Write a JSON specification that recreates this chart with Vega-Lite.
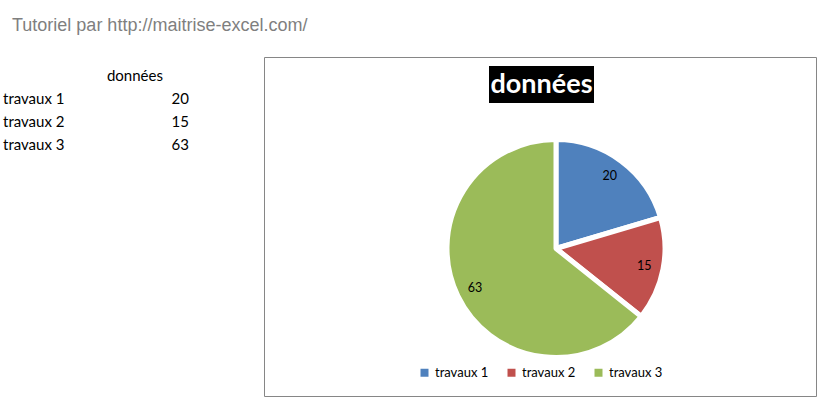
{
  "$schema": "https://vega.github.io/schema/vega-lite/v6.json",
  "background": "white",
  "padding": {"left": 0, "top": 16, "right": 0, "bottom": 0},
  "title": {"text": "Tutoriel par http://maitrise-excel.com/", "anchor": "start", "dx": 12, "font": "Liberation Sans", "fontSize": 18, "fontWeight": "normal", "color": "#7f7f7f", "offset": 22, "frame": "bounds"},
  "config": {"view": {"stroke": null}},
  "spacing": 73,
  "datasets": {
    "tbl": [
      {"cat": "travaux 1", "donnees": 20},
      {"cat": "travaux 2", "donnees": 15},
      {"cat": "travaux 3", "donnees": 63}
    ]
  },
  "hconcat": [
    {
      "width": 190,
      "height": 107,
      "data": {"name": "tbl"},
      "layer": [
        {
          "mark": {"type": "text", "align": "left", "dx": 3, "font": "Lato", "fontSize": 15, "color": "black"},
          "encoding": {
            "x": {"datum": "cat", "type": "nominal", "bandPosition": 0, "scale": {"type": "band", "domain": ["cat", "val"], "paddingInner": 0, "paddingOuter": 0}, "axis": null},
            "y": {"field": "cat", "type": "nominal", "scale": {"type": "band", "domain": ["hdr", "travaux 1", "travaux 2", "travaux 3"], "paddingInner": 0, "paddingOuter": 0.35}, "axis": null},
            "text": {"field": "cat"}
          }
        },
        {
          "mark": {"type": "text", "align": "right", "dx": -1, "font": "Lato", "fontSize": 15, "color": "black"},
          "encoding": {
            "x": {"datum": "val", "type": "nominal", "bandPosition": 1},
            "y": {"field": "cat", "type": "nominal"},
            "text": {"field": "donnees"}
          }
        },
        {
          "data": {"values": [{"h": "données", "r": "hdr"}]},
          "mark": {"type": "text", "align": "center", "font": "Lato", "fontSize": 15, "color": "black"},
          "encoding": {
            "x": {"datum": "val", "type": "nominal", "bandPosition": 0.42},
            "y": {"field": "r", "type": "nominal"},
            "text": {"field": "h"}
          }
        }
      ]
    },
    {
      "width": 552,
      "height": 339,
      "view": {"stroke": "#868686", "strokeWidth": 1, "fill": "white"},
      "layer": [
        {
          "data": {"values": [{"t": "données"}]},
          "mark": {"type": "rect", "x": 225, "x2": 330, "y": 9, "y2": 46, "fill": "black"},
          "encoding": {}
        },
        {
          "data": {"values": [{"t": "données"}]},
          "mark": {"type": "text", "x": 277.5, "y": 28, "align": "center", "baseline": "middle", "font": "Lato", "fontSize": 27, "fontWeight": "bold", "color": "white"},
          "encoding": {"text": {"field": "t"}}
        },
        {
          "data": {"name": "tbl"},
          "encoding": {
            "theta": {"field": "donnees", "type": "quantitative", "stack": true},
            "order": {"field": "cat", "type": "nominal", "sort": "ascending"}
          },
          "layer": [
            {
              "mark": {"type": "arc", "outerRadius": 109, "stroke": "white", "strokeWidth": 5, "strokeJoin": "round", "x": 292, "y": 191.5},
              "encoding": {
                "color": {
                  "field": "cat", "type": "nominal",
                  "scale": {"domain": ["travaux 1", "travaux 2", "travaux 3"], "range": ["#4f81bd", "#c0504d", "#9bbb59"]},
                  "legend": {"orient": "none", "legendX": 418, "legendY": 309, "direction": "horizontal", "title": null, "symbolType": "square", "symbolSize": 64, "symbolStrokeWidth": 0, "labelFont": "Lato", "labelFontSize": 13, "labelColor": "black", "labelOffset": 4, "columnPadding": 16}
                }
              }
            },
            {
              "mark": {"type": "text", "radius": 90, "font": "Lato", "fontSize": 12.5, "color": "black", "x": 292, "y": 191.5},
              "encoding": {
                "text": {"field": "donnees", "type": "quantitative"}
              }
            }
          ]
        }
      ]
    }
  ]
}
